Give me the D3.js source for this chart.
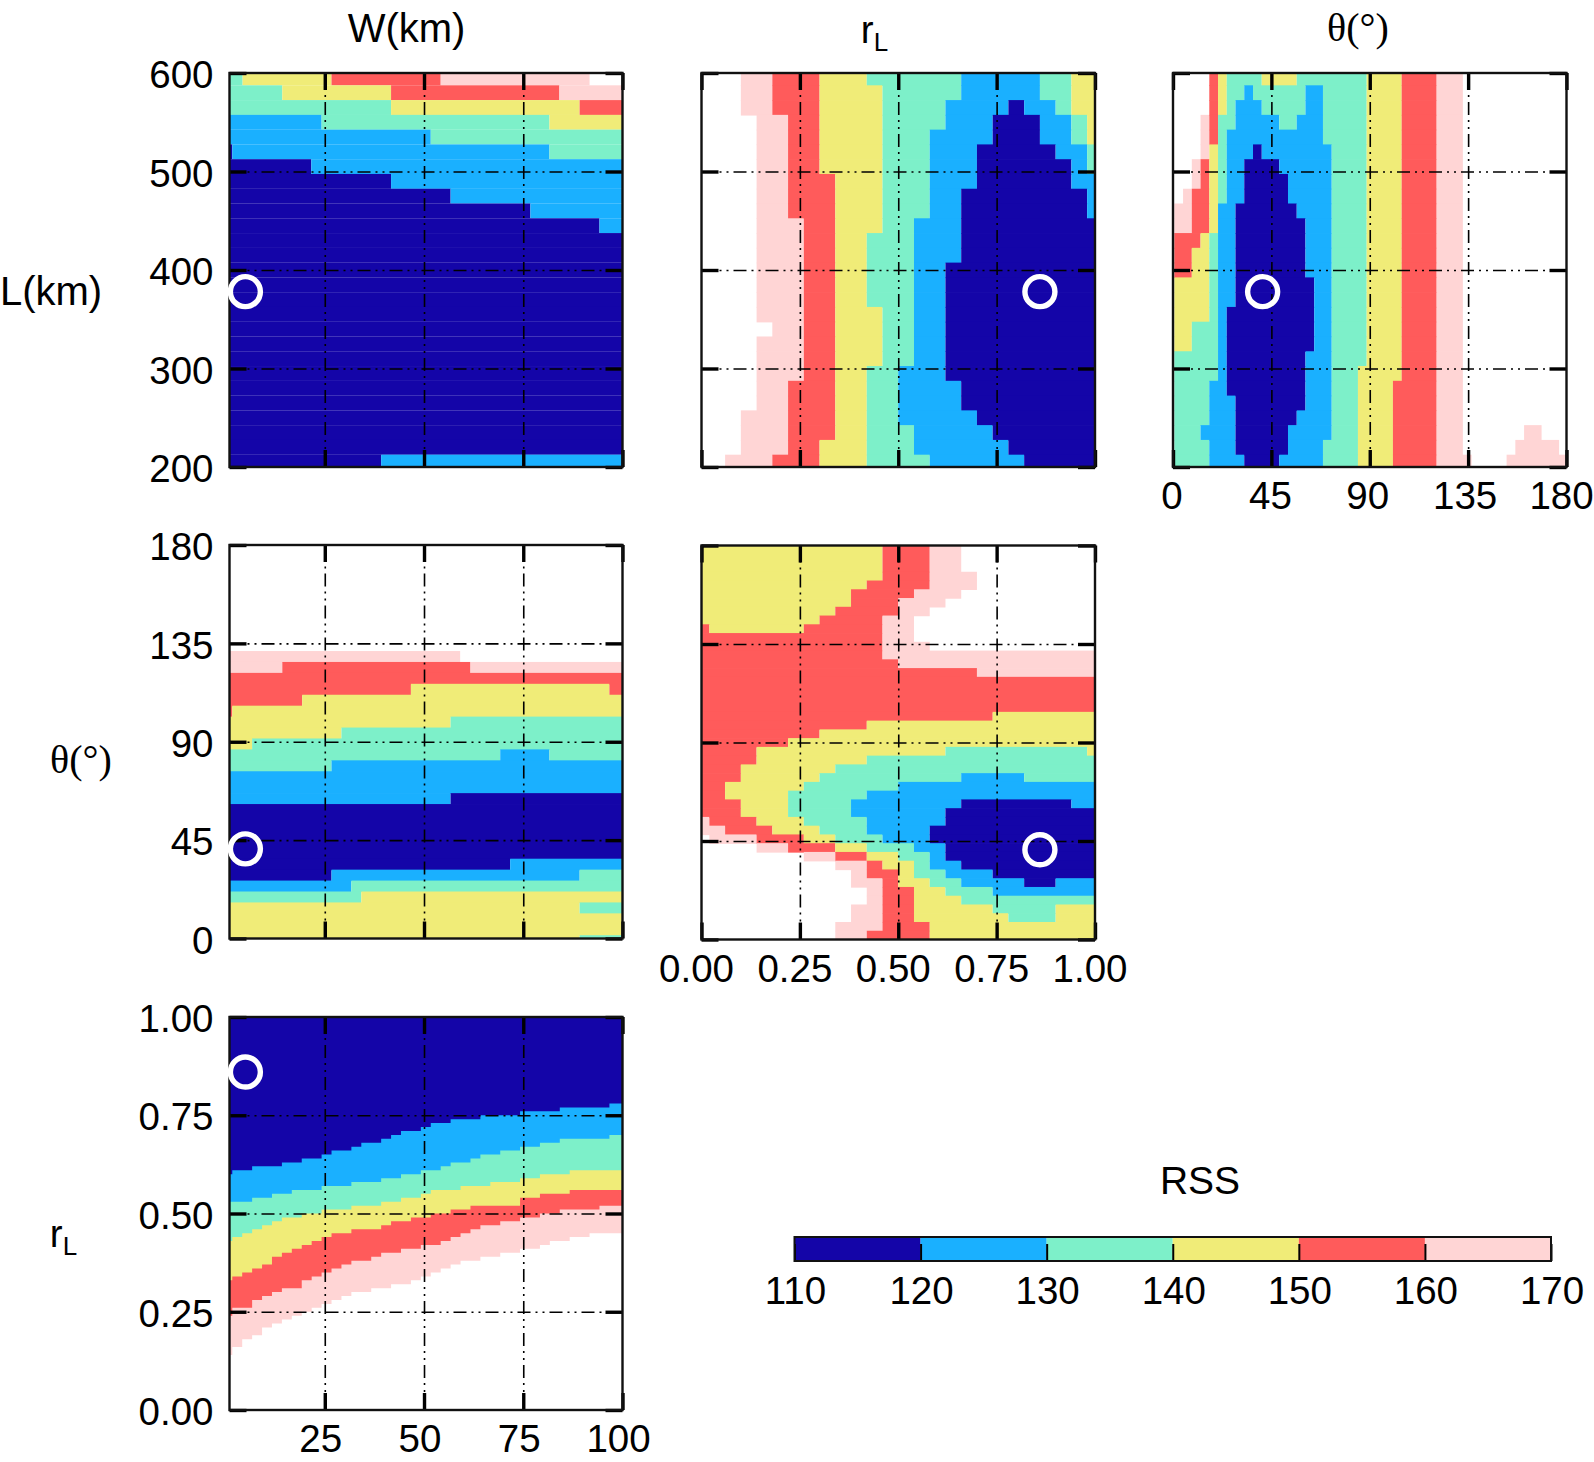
<!DOCTYPE html>
<html><head><meta charset="utf-8">
<script src="https://cdn.jsdelivr.net/npm/d3@7/dist/d3.min.js"></script>
<style>html,body{margin:0;padding:0;background:#fff}svg{display:block}text{font-family:"Liberation Sans",Arial,sans-serif;fill:#000}</style>
</head><body><div id="chart"></div>
<script>
// class index: 0 navy 110-120 ... 5 pink 160-170, 6 above 170 (white)
const rssTicks=[110,120,130,140,150,160,170];
const rssColors=["#1405a8","#1ab0ff","#7df0c9","#f0ec78","#ff5b5b","#ffd5d5"];
const lTicks=[200,300,400,500,600], wTicks=[25,50,75,100], rTicks=[0,0.25,0.5,0.75,1], tTicks=[0,45,90,135,180];
const best={W:5,L:378,r:0.86,t:41};
// every row: [lower edge of row, class, end, class, end, ..., last class]; top of a row = lower edge of row above
const rowsLW=[
[587.5,2,4.3,3,26.7,4,54.2,5,91.7,6],[572.5,2,14.3,3,41.7,4,84.1,5],[557.5,2,41.7,3,89.2,4],[542.5,1,24.2,2,81.6,3],
[527.5,1,51.7,2],[512.5,0,1.7,1,81.6,2],[497.5,0,21.6,1],[482.5,0,41.7,1],[467.5,0,56.7,1],[452.5,0,76.8,1],[437.5,0,94.2,1],
[422.5,0],[407.5,0],[392.5,0],[377.5,0],[362.5,0],[347.5,0],[332.5,0],[317.5,0],[302.5,0],[287.5,0],[272.5,0],[257.5,0],[242.5,0],[227.5,0],[212.5,0],
[200,0,39.2,1]];
const rowsLR=[
[587.5,6,.10,5,.18,4,.30,3,.42,2,.66,1,.86,2,.94,3],
[572.5,6,.10,5,.18,4,.30,3,.46,2,.66,1,.86,2,.94,3],
[557.5,6,.10,5,.18,4,.30,3,.46,2,.62,1,.78,0,.82,1,.90,2,.94,3],
[542.5,6,.14,5,.22,4,.30,3,.46,2,.62,1,.74,0,.86,1,.94,2,.98,3],
[527.5,6,.14,5,.22,4,.30,3,.46,2,.58,1,.74,0,.86,1,.94,2,.98,3],
[512.5,6,.14,5,.22,4,.30,3,.46,2,.58,1,.70,0,.90,1,.98,2],
[497.5,6,.14,5,.22,4,.30,3,.46,2,.58,1,.70,0,.94,1,.98,2],
[482.5,6,.14,5,.22,4,.34,3,.46,2,.58,1,.70,0,.94,1],
[467.5,6,.14,5,.22,4,.34,3,.46,2,.58,1,.66,0,.98,1],
[452.5,6,.14,5,.22,4,.34,3,.46,2,.58,1,.66,0,.98,1],
[437.5,6,.14,5,.26,4,.34,3,.46,2,.54,1,.66,0],
[422.5,6,.14,5,.26,4,.34,3,.42,2,.54,1,.66,0],
[407.5,6,.14,5,.26,4,.34,3,.42,2,.54,1,.66,0],
[392.5,6,.14,5,.26,4,.34,3,.42,2,.54,1,.62,0],
[377.5,6,.14,5,.26,4,.34,3,.42,2,.54,1,.62,0],
[362.5,6,.14,5,.26,4,.34,3,.42,2,.54,1,.62,0],
[347.5,6,.14,5,.26,4,.34,3,.46,2,.54,1,.62,0],
[332.5,6,.18,5,.26,4,.34,3,.46,2,.54,1,.62,0],
[317.5,6,.14,5,.26,4,.34,3,.46,2,.54,1,.62,0],
[302.5,6,.14,5,.26,4,.34,3,.46,2,.54,1,.62,0],
[287.5,6,.14,5,.26,4,.34,3,.42,2,.50,1,.62,0],
[272.5,6,.14,5,.22,4,.34,3,.42,2,.50,1,.66,0],
[257.5,6,.14,5,.22,4,.34,3,.42,2,.50,1,.66,0],
[242.5,6,.10,5,.22,4,.34,3,.42,2,.50,1,.70,0],
[227.5,6,.10,5,.22,4,.34,3,.42,2,.54,1,.74,0],
[212.5,6,.10,5,.22,4,.30,3,.42,2,.54,1,.78,0],
[200,6,.06,5,.18,4,.30,3,.42,2,.58,1,.82,0]];
const tailA=[2,88.6,3,104.6,4,120.6,5,132.6,6];
const tailB=[2,84.6,3,100.6,4,120.6,5,132.6,6];
const rowsLT=[
[587.5,6,16.6,4,20.6,3,24.6,2,40.6,3,56.6,...tailA],
[572.5,6,16.6,4,20.6,3,24.6,2,32.6,1,36.6,2,60.6,1,68.6,...tailA],
[557.5,6,16.6,4,20.6,3,24.6,2,28.6,1,40.6,2,60.6,1,68.6,...tailA],
[542.5,6,12.6,5,16.6,4,20.6,2,28.6,1,48.6,2,56.6,1,68.6,...tailA],
[527.5,6,12.6,5,16.6,4,20.6,2,24.6,1,68.6,...tailA],
[512.5,6,12.6,5,16.6,3,20.6,2,24.6,1,36.6,0,40.6,1,72.6,...tailA],
[497.5,6,8.6,5,12.6,4,16.6,3,20.6,2,24.6,1,32.6,0,48.6,1,72.6,...tailA],
[482.5,6,8.6,5,12.6,4,16.6,3,20.6,2,24.6,1,32.6,0,52.6,1,72.6,...tailA],
[467.5,6,4.6,5,8.6,4,16.6,3,20.6,2,24.6,1,32.6,0,52.6,1,72.6,...tailA],
[452.5,6,.6,5,8.6,4,16.6,3,20.6,1,28.6,0,56.6,1,72.6,...tailA],
[437.5,6,.6,5,8.6,4,16.6,3,20.6,1,28.6,0,60.6,1,72.6,...tailA],
[422.5,6,.6,4,12.6,3,16.6,2,20.6,1,28.6,0,60.6,1,72.6,...tailA],
[407.5,6,.6,4,8.6,3,16.6,2,20.6,1,28.6,0,60.6,1,72.6,...tailA],
[392.5,6,.6,4,8.6,3,16.6,2,20.6,1,28.6,0,60.6,1,72.6,...tailA],
[377.5,6,.6,3,16.6,2,20.6,1,28.6,0,64.6,1,72.6,...tailA],
[362.5,6,.6,3,16.6,2,20.6,1,28.6,0,64.6,1,72.6,...tailA],
[347.5,6,.6,3,16.6,2,20.6,1,24.6,0,64.6,1,72.6,...tailA],
[332.5,6,.6,3,8.6,2,20.6,1,24.6,0,64.6,1,72.6,...tailA],
[317.5,6,.6,3,8.6,2,20.6,1,24.6,0,64.6,1,72.6,...tailA],
[302.5,6,.6,2,20.6,1,24.6,0,60.6,1,72.6,...tailA],
[287.5,6,.6,2,20.6,1,24.6,0,60.6,1,72.6,2,84.6,3,104.6,4,120.6,5,132.6,6],
[272.5,6,.6,2,16.6,1,24.6,0,60.6,1,72.6,...tailB],
[257.5,6,.6,2,16.6,1,28.6,0,60.6,1,72.6,...tailB],
[242.5,6,.6,2,16.6,1,28.6,0,56.6,1,72.6,...tailB],
[227.5,6,.6,2,12.6,1,28.6,0,52.6,1,72.6,2,84.6,3,100.6,4,120.6,5,132.6,6,160.6,5,168.6,6],
[212.5,6,.6,2,16.6,1,28.6,0,52.6,1,68.6,2,84.6,3,100.6,4,120.6,5,132.6,6,156.6,5,176.6,6],
[200,6,.6,2,16.6,1,32.6,0,48.6,1,68.6,2,84.6,3,100.6,4,120.6,5,136.6,6,152.6,5]];
const rowsTW=[
[131.5,6],[126.5,5,59.1,6],[121.5,5,14.3,4,61.7,5],[116.5,4],[111.5,4,46.7,3,96.7,4],[106.5,4,19.3,3],[101.5,4,1.7,3],
[96.5,3,56.7,2],[91.5,3,29.2,2],[86.5,3,6.7,2],[81.5,2,69.2,1,81.6,2],[76.5,2,26.7,1],[66.5,1],[61.5,1,56.7,0],[36.5,0],
[31.5,0,71.7,1],[26.5,0,26.7,1,89.2,2],[21.5,1,31.7,2],[16.5,2,34.2,3],[11.5,3,89.2,2],[1.5,3],[0,3,89.2,2]];
const rowsTR=[
[168,3,.46,4,.58,5,.66,6],[164,3,.46,4,.58,5,.70,6],[160,3,.42,4,.58,5,.70,6],[156,3,.38,4,.54,5,.66,6],
[152,3,.38,4,.50,5,.62,6],[148,3,.34,4,.50,5,.58,6],[144,3,.30,4,.46,5,.54,6],[140,4,.02,3,.26,4,.46,5,.54,6],
[136,4,.46,5,.54,6],[132,4,.46,5,.58,6],[128,4,.46,5],[124,4,.50,5],[120,4,.70,5],[104,4],[100,4,.74,3],[96,4,.42,3],
[92,4,.30,3],[88,4,.22,3],[84,4,.14,3,.62,2,.98,3],[80,4,.14,3,.42,2],[76,4,.10,3,.34,2],[72,4,.10,3,.30,2,.66,1,.82,2],
[68,4,.06,3,.26,2,.50,1],[64,4,.06,3,.22,2,.42,1],[60,4,.10,3,.22,2,.38,1,.66,0,.94,1],[56,4,.10,3,.22,2,.38,1,.62,0],
[52,5,.02,4,.14,3,.26,2,.42,1,.62,0],[48,5,.06,4,.18,3,.30,2,.42,1,.58,0],[44,6,.02,5,.14,4,.26,3,.34,2,.46,1,.58,0],
[40,6,.14,5,.22,4,.34,3,.42,2,.54,1,.62,0],[36,6,.26,5,.34,4,.42,3,.50,2,.58,1,.62,0],[32,6,.34,5,.42,4,.46,3,.54,2,.58,1,.66,0],
[28,6,.38,5,.42,4,.50,3,.54,2,.62,1,.74,0],[24,6,.38,5,.46,4,.50,3,.58,2,.66,1,.82,0,.90,1],[20,6,.42,5,.46,4,.54,3,.62,2,.74,1],
[16,6,.42,5,.46,4,.54,3,.66,2],[12,6,.38,5,.46,4,.54,3,.74,2,.90,3],[8,6,.38,5,.46,4,.54,3,.78,2,.90,3],
[4,6,.34,5,.46,4,.58,3],[0,6,.34,5,.42,4,.58,3]];
// rL vs W: column edges, and the lower rL edge of each class in each column
const wEdges=[1,1.7,4.2,6.7,9.2,11.7,14.2,16.7,19.2,21.7,24.2,26.7,29.2,31.7,34.2,36.7,39.2,41.7,44.2,46.7,49.2,51.7,54.2,56.7,59.2,61.7,64.2,66.7,69.2,71.7,74.2,76.7,79.2,81.7,84.2,86.7,89.2,91.7,94.2,96.7,99.2,100];
const navyFloor=[.60,.61,.61,.62,.62,.62,.63,.63,.64,.64,.65,.66,.66,.67,.68,.68,.69,.70,.71,.71,.72,.73,.73,.74,.74,.74,.75,.75,.75,.75,.76,.76,.76,.76,.77,.77,.77,.77,.77,.78,.78];
const blueFloor=[.53,.53,.53,.54,.54,.55,.55,.56,.56,.56,.57,.57,.57,.58,.58,.58,.59,.59,.60,.60,.61,.61,.62,.63,.63,.64,.65,.65,.66,.66,.67,.67,.68,.68,.69,.69,.69,.69,.69,.70,.70];
const tealFloor=[.43,.44,.45,.46,.47,.48,.49,.49,.50,.50,.51,.51,.51,.52,.52,.52,.53,.53,.54,.54,.55,.56,.56,.56,.57,.57,.57,.58,.58,.58,.59,.59,.60,.60,.60,.61,.61,.61,.61,.61,.61];
const yellowFloor=[.33,.34,.35,.36,.37,.39,.40,.41,.42,.43,.44,.45,.45,.46,.46,.46,.47,.48,.48,.49,.49,.50,.50,.51,.51,.52,.52,.52,.52,.52,.54,.54,.55,.55,.55,.56,.56,.56,.56,.56,.56];
const redFloor=[.24,.26,.26,.28,.29,.30,.31,.31,.33,.34,.35,.36,.37,.38,.38,.39,.40,.40,.41,.41,.42,.42,.43,.44,.45,.46,.47,.47,.48,.48,.49,.49,.50,.50,.51,.51,.51,.51,.52,.52,.52];
const pinkFloor=[.14,.16,.18,.19,.21,.22,.23,.24,.25,.26,.27,.28,.29,.30,.30,.31,.31,.32,.32,.33,.34,.35,.36,.37,.38,.38,.39,.39,.40,.40,.41,.41,.42,.43,.43,.44,.44,.45,.45,.45,.45];
const bandFloors=[navyFloor,blueFloor,tealFloor,yellowFloor,redFloor,pinkFloor];

const svg=d3.select("#chart").append("svg").attr("width",1594).attr("height",1462);
const FS=38.5, TFS=40, TICK=17;
const colX=[[229.5,622.5],[701.5,1095],[1173,1566.5]], rowY=[[73,467],[545,938.5],[1017,1410]];

function panel(cfg){
  const [x0,x1]=colX[cfg.col], [y0,y1]=cfg.yr||rowY[cfg.row];
  const x=d3.scaleLinear().domain(cfg.xd).range([x0,x1]);
  const y=d3.scaleLinear().domain(cfg.yd).range([y1,y0]);
  const g=svg.append("g");
  if(cfg.rows){
    const cells=[];
    let top=cfg.yd[1];
    cfg.rows.forEach(r=>{
      const low=r[0]; let from=cfg.xd[0];
      for(let i=1;i<r.length;i+=2){
        const to=i+1<r.length?r[i+1]:cfg.xd[1];
        if(r[i]<6) cells.push({c:r[i],x0:from,x1:to,y0:low,y1:top});
        from=to;
      }
      top=low;
    });
    const lap=cfg.lap===undefined?0.7:cfg.lap;
    g.selectAll("rect.cell").data(cells).join("rect").attr("class","cell")
      .attr("x",d=>x(d.x0)).attr("width",d=>x(d.x1)-x(d.x0))
      .attr("y",d=>y(d.y1)).attr("height",d=>y(d.y0)-y(d.y1)+(d.y0>cfg.yd[0]?lap:0))
      .attr("fill",d=>rssColors[d.c]);
  }
  if(cfg.bands){
    const area=d3.area().x(d=>x(d.x)).y0(d=>y(d.f)).y1(y(cfg.yd[1]));
    d3.range(5,-1,-1).forEach(b=>{
      const pts=[];
      cfg.bands[b].forEach((f,k)=>{pts.push({x:cfg.edges[k],f});pts.push({x:cfg.edges[k+1],f});});
      g.append("path").attr("d",area(pts)).attr("fill",rssColors[b]);
    });
  }
  // grid
  const gridTicks=(t,d)=>t.filter(v=>v>d[0]&&v<d[1]);
  const dash="13 5 2 5 2 5";
  g.append("g").attr("transform",`translate(0,${y1})`)
    .call(d3.axisBottom(x).tickValues(gridTicks(cfg.xt,cfg.xd)).tickSize(-(y1-y0)).tickFormat(""))
    .call(s=>s.select(".domain").remove())
    .selectAll("line").attr("stroke","#000").attr("stroke-width",1.6).attr("stroke-dasharray",dash);
  g.append("g").attr("transform",`translate(${x0},0)`)
    .call(d3.axisRight(y).tickValues(gridTicks(cfg.yt,cfg.yd)).tickSize(x1-x0).tickFormat(""))
    .call(s=>s.select(".domain").remove())
    .selectAll("line").attr("stroke","#000").attr("stroke-width",1.6).attr("stroke-dasharray",dash);
  // ticks on the four sides, labels on the labelled ones
  const styleTicks=s=>{s.select(".domain").remove();s.selectAll("line").attr("stroke","#000").attr("stroke-width",3.4);};
  const left=d3.axisLeft(y).tickValues(cfg.yt).tickSize(-TICK).tickFormat(cfg.yf);
  g.append("g").attr("transform",`translate(${x0},0)`).call(left).call(styleTicks)
    .selectAll("text").attr("font-size",FS).attr("font-family",'"Liberation Sans"').attr("fill","#000").attr("text-anchor","end")
    .attr("x",-16).attr("dy","0.38em");
  g.append("g").attr("transform",`translate(${x1},0)`).call(d3.axisRight(y).tickValues(cfg.yt).tickSize(-TICK).tickFormat("")).call(styleTicks);
  g.append("g").attr("transform",`translate(0,${y0})`).call(d3.axisTop(x).tickValues(cfg.xt).tickSize(-TICK).tickFormat("")).call(styleTicks);
  const bottom=d3.axisBottom(x).tickValues(cfg.xt).tickSize(-TICK).tickFormat(cfg.xf||"");
  const ba=g.append("g").attr("transform",`translate(0,${y1})`).call(bottom).call(styleTicks);
  ba.selectAll("text").attr("font-size",FS).attr("font-family",'"Liberation Sans"').attr("fill","#000")
    .attr("x",(d,i)=>cfg.xdx?cfg.xdx[i]:0).attr("y",42).attr("dy",0);
  g.append("rect").attr("x",x0).attr("y",y0).attr("width",x1-x0).attr("height",y1-y0)
    .attr("fill","none").attr("stroke","#111").attr("stroke-width",2.4);
  g.append("circle").attr("cx",x(cfg.best[0])).attr("cy",y(cfg.best[1])).attr("r",15)
    .attr("fill","none").attr("stroke","#fff").attr("stroke-width",5.4);
}
const fmtInt=d3.format("d"), fmt2=d3.format(".2f");
panel({col:0,row:0,xd:[1,100],yd:[200,600],xt:wTicks,yt:lTicks,yf:fmtInt,rows:rowsLW,lap:0.1,best:[best.W,best.L]});
panel({col:1,row:0,xd:[0,1],yd:[200,600],xt:rTicks,yt:lTicks,yf:"",rows:rowsLR,best:[best.r,best.L]});
panel({col:2,row:0,xd:[0,180],yd:[200,600],xt:tTicks,yt:lTicks,yf:"",xf:fmtInt,xdx:[-1.5,-1.5,-2.5,-3.5,-5.5],rows:rowsLT,best:[best.t,best.L]});
panel({col:0,row:1,xd:[1,100],yd:[0,180],xt:wTicks,yt:tTicks,yf:fmtInt,rows:rowsTW,best:[best.W,best.t]});
panel({col:1,row:1,yr:[545.5,939.5],xd:[0,1],yd:[0,180],xt:rTicks,yt:tTicks,yf:"",xf:fmt2,xdx:[-5.5,-5.5,-5.5,-5.5,-5.5],rows:rowsTR,best:[best.r,best.t]});
panel({col:0,row:2,xd:[1,100],yd:[0,1],xt:wTicks,yt:rTicks,yf:fmt2,xf:fmtInt,xdx:[-4.5,-4.5,-4.5,-4.5],bands:bandFloors,edges:wEdges,best:[best.W,best.r]});

// titles
const label=(x,y,txt,fam)=>svg.append("text").attr("x",x).attr("y",y).attr("text-anchor","middle")
  .attr("font-size",TFS).style("font-family",fam||'"Liberation Sans"').text(txt);
const rLabel=(x,y)=>{const t=svg.append("text").attr("x",x).attr("y",y).attr("text-anchor","middle").attr("font-size",FS);
  t.append("tspan").text("r");t.append("tspan").attr("font-size",26).attr("dy",8).text("L");};
const serif='"Liberation Serif"';
label(406.5,41.5,"W(km)");
rLabel(874.5,43);
label(1358,41,"θ(°)",serif);
label(51,304.5,"L(km)");
label(81,773,"θ(°)",serif);
rLabel(63.5,1247);
svg.append("text").attr("x",1200).attr("y",1194).attr("text-anchor","middle").attr("font-size",39).text("RSS");

// colour bar
const cb=d3.scaleLinear().domain([110,170]).range([794.5,1551]);
const cbTop=1237,cbBot=1261;
svg.append("g").selectAll("rect").data(rssColors).join("rect")
  .attr("x",(d,i)=>cb(rssTicks[i])).attr("width",(d,i)=>cb(rssTicks[i+1])-cb(rssTicks[i]))
  .attr("y",cbTop).attr("height",cbBot-cbTop).attr("fill",d=>d);
const cba=svg.append("g").attr("transform",`translate(0,${cbBot})`)
  .call(d3.axisBottom(cb).tickValues(rssTicks).tickSize(-17).tickFormat(fmtInt));
cba.select(".domain").remove();
cba.selectAll("line").attr("stroke","#000").attr("stroke-width",2);
cba.selectAll("text").attr("font-size",FS).attr("font-family",'"Liberation Sans"').attr("fill","#000").attr("x",0.5).attr("y",43).attr("dy",0);
svg.append("rect").attr("x",794.5).attr("y",cbTop).attr("width",756.5).attr("height",cbBot-cbTop)
  .attr("fill","none").attr("stroke","#111").attr("stroke-width",2);
</script></body></html>
